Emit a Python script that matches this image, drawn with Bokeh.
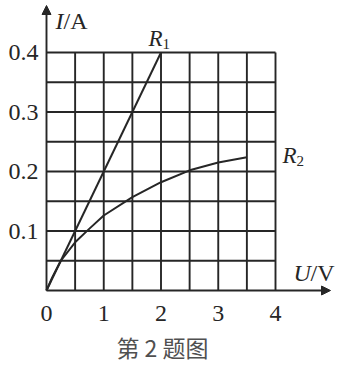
from bokeh.plotting import figure
from bokeh.models import Arrow, NormalHead
from bokeh.core.properties import value
from bokeh.embed import file_html
from bokeh.resources import INLINE

# data
u_r1 = [0.0, 2.0]
i_r1 = [0.0, 0.4]
u_r2 = [0.0, 0.1, 0.25, 0.5, 0.75, 1.0, 1.5, 2.0, 2.5, 3.0, 3.5]
i_r2 = [0.0, 0.022, 0.05, 0.081, 0.104, 0.126, 0.157, 0.182, 0.202, 0.215, 0.224]
x_ticks = [0, 1, 2, 3, 4]
x_tick_labels = ["0", "1", "2", "3", "4"]
y_ticks = [0.1, 0.2, 0.3, 0.4]
y_tick_labels = ["0.1", "0.2", "0.3", "0.4"]
grid_u = [0.5 * k for k in range(1, 9)]
grid_i = [0.05 * k for k in range(1, 9)]
u_max, i_max = 4.0, 0.4

W, H = 337, 378
ox, oy = 46.0, 290.0          # pixel of origin
sx, sy = 57.25, 595.0          # pixels per unit
p = figure(width=W, height=H, output_backend="svg", toolbar_location=None,
           x_range=(-ox / sx, (W - ox) / sx), y_range=(-(H - oy) / sy, oy / sy),
           min_border=0, outline_line_color=None)
p.axis.visible = False
p.grid.visible = False
p.background_fill_color = "white"
p.border_fill_color = "white"

ink = "#262626"
# grid
p.segment(x0=grid_u, y0=[0] * len(grid_u), x1=grid_u, y1=[i_max] * len(grid_u),
          line_color=ink, line_width=1.9)
p.segment(x0=[0] * len(grid_i), y0=grid_i, x1=[u_max] * len(grid_i), y1=grid_i,
          line_color=ink, line_width=1.9)

# axes with arrows
p.add_layout(Arrow(end=NormalHead(size=9, fill_color=ink, line_color=ink),
                   x_start=0, y_start=0, x_end=0, y_end=(oy - 5) / sy,
                   line_color=ink, line_width=1.9))
p.add_layout(Arrow(end=NormalHead(size=9, fill_color=ink, line_color=ink),
                   x_start=0, y_start=0, x_end=(330 - ox) / sx, y_end=0,
                   line_color=ink, line_width=1.9))

# curves
p.line(u_r1, i_r1, line_color=ink, line_width=2)
p.line(u_r2, i_r2, line_color=ink, line_width=2, line_join="round")

serif = value("Liberation Serif")
# tick labels
p.text(x=[-8 / sx] * len(y_ticks), y=y_ticks, text=y_tick_labels,
       text_font=serif, text_font_size="24px", text_color=ink,
       text_align="right", text_baseline="middle")
p.text(x=x_ticks, y=[-23 / sy] * len(x_ticks), text=x_tick_labels,
       text_font=serif, text_font_size="24px", text_color=ink,
       text_align="center", text_baseline="middle")

# axis titles
p.text(x=[(55 - ox) / sx], y=[(oy - 20) / sy], text=["I"], text_font=serif,
       text_font_style="italic", text_font_size="24px", text_color=ink,
       text_align="left", text_baseline="middle")
p.text(x=[(63 - ox) / sx], y=[(oy - 20) / sy], text=["/A"], text_font=serif,
       text_font_size="24px", text_color=ink,
       text_align="left", text_baseline="middle")
p.text(x=[(293 - ox) / sx], y=[(oy - 272) / sy], text=["U"], text_font=serif,
       text_font_style="italic", text_font_size="24px", text_color=ink,
       text_align="left", text_baseline="middle")
p.text(x=[(310 - ox) / sx], y=[(oy - 272) / sy], text=["/V"], text_font=serif,
       text_font_size="24px", text_color=ink,
       text_align="left", text_baseline="middle")

# curve labels
p.text(x=[(148 - ox) / sx], y=[(oy - 38) / sy], text=["R"], text_font=serif,
       text_font_style="italic", text_font_size="23px", text_color=ink,
       text_align="left", text_baseline="middle")
p.text(x=[(162 - ox) / sx], y=[(oy - 43) / sy], text=["1"], text_font=serif,
       text_font_size="15px", text_color=ink,
       text_align="left", text_baseline="middle")
p.text(x=[(282 - ox) / sx], y=[(oy - 155) / sy], text=["R"], text_font=serif,
       text_font_style="italic", text_font_size="23px", text_color=ink,
       text_align="left", text_baseline="middle")
p.text(x=[(296 - ox) / sx], y=[(oy - 160) / sy], text=["2"], text_font=serif,
       text_font_size="15px", text_color=ink,
       text_align="left", text_baseline="middle")

# caption
p.text(x=[(162 - ox) / sx], y=[(oy - 346) / sy], text=["第 2 题图"],
       text_font=value("Noto Sans CJK SC"), text_font_size="23px",
       text_color="#505050", text_align="center", text_baseline="middle")

open("out.html", "w").write(file_html(p, INLINE))
